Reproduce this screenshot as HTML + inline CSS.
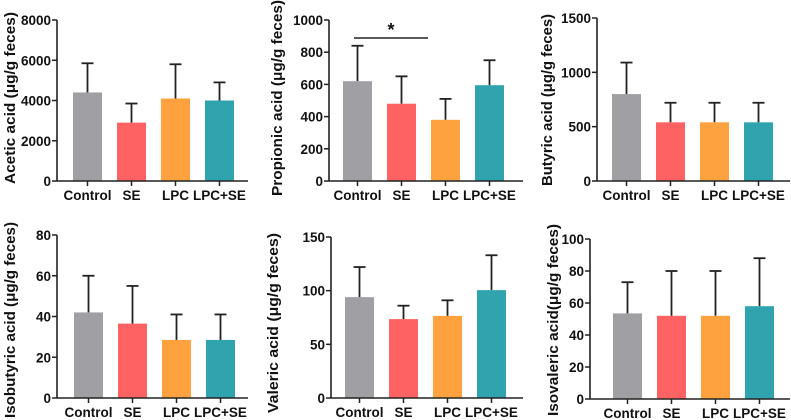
<!DOCTYPE html>
<html><head><meta charset="utf-8"><style>
html,body{margin:0;padding:0;background:#fff;width:791px;height:420px;overflow:hidden}
svg{display:block}
text{font-family:"Liberation Sans",Arial,sans-serif;font-weight:700;fill:#111}
</style></head><body>
<svg id="c" width="791" height="420" viewBox="0 0 791 420" xmlns="http://www.w3.org/2000/svg"></svg>
<script>
const categories = ["Control","SE","LPC","LPC+SE"];
const colors = ["#A09FA4","#FE6263","#FDA23F","#2FA3AE"];
const aceticMean = [4400,2900,4100,4000];
const aceticErr = [5850,3850,5800,4900];
const propionicMean = [620,480,380,595];
const propionicErr = [840,650,510,750];
const butyricMean = [800,540,540,540];
const butyricErr = [1090,720,720,720];
const isobutyricMean = [42,36.5,28.5,28.5];
const isobutyricErr = [60,55,41,41];
const valericMean = [94,73.5,76.5,100.5];
const valericErr = [122,86,91,133];
const isovalericMean = [53.5,52,52,58];
const isovalericErr = [73,80,80,88];
const aceticTicks = [0,2000,4000,6000,8000];
const propionicTicks = [0,200,400,600,800,1000];
const butyricTicks = [0,500,1000,1500];
const isobutyricTicks = [0,20,40,60,80];
const valericTicks = [0,50,100,150];
const isovalericTicks = [0,20,40,60,80,100];

const panels = [
 {name:"acetic",title:"Acetic acid (μg/g feces)",mean:aceticMean,err:aceticErr,ticks:aceticTicks,ax:57,top:20,zero:181,b0:73,end:248,tx:10,ty:98,tl:172},
 {name:"propionic",title:"Propionic acid (μg/g feces)",mean:propionicMean,err:propionicErr,ticks:propionicTicks,ax:329,top:20,zero:181,b0:343,end:523,tx:277,ty:98,tl:196,sig:true},
 {name:"butyric",title:"Butyric acid (μg/g feces)",mean:butyricMean,err:butyricErr,ticks:butyricTicks,ax:597,top:18,zero:181,b0:612,end:790,tx:547,ty:100,tl:172},
 {name:"isobutyric",title:"Isobutyric acid (μg/g feces)",mean:isobutyricMean,err:isobutyricErr,ticks:isobutyricTicks,ax:57,top:235,zero:398,b0:74,end:248,tx:10,ty:320,tl:196},
 {name:"valeric",title:"Valeric acid (μg/g feces)",mean:valericMean,err:valericErr,ticks:valericTicks,ax:331,top:237,zero:398,b0:345,end:523,tx:273,ty:323,tl:180},
 {name:"isovaleric",title:"Isovaleric acid(μg/g feces)",mean:isovalericMean,err:isovalericErr,ticks:isovalericTicks,ax:590,top:239,zero:399,b0:613,end:790,tx:553,ty:320,tl:192}
];
const NS="http://www.w3.org/2000/svg";
const svg=document.getElementById('c');
function mk(tag,attrs,parent){const e=document.createElementNS(NS,tag);for(const k in attrs)e.setAttribute(k,attrs[k]);(parent||svg).appendChild(e);return e;}
panels.forEach(p=>{
  const g=mk('g',{});
  
  
  const max=p.ticks[p.ticks.length-1];
  const y=v=>p.zero-(v/max)*(p.zero-p.top);
  const step=44, bw=29;
  const xc=i=>p.b0+i*step+bw/2;
  categories.forEach((c,i)=>{
    const eb=mk('line',{x1:xc(i),x2:xc(i),y1:y(p.mean[i]),y2:y(p.err[i]),stroke:'#222','stroke-width':1.8},g);
    
    
    const cap=mk('line',{x1:xc(i)-6,x2:xc(i)+6,y1:y(p.err[i]),y2:y(p.err[i]),stroke:'#222','stroke-width':1.8},g);
    
    
    const r=mk('rect',{x:p.b0+i*step,y:y(p.mean[i]),width:bw,height:p.zero-y(p.mean[i]),fill:colors[i]},g);
    
    
    mk('line',{x1:xc(i),x2:xc(i),y1:p.zero,y2:p.zero+5,stroke:'#222','stroke-width':1.5},g);
    const t=mk('text',{x:xc(i),y:p.zero+19,'text-anchor':'middle','font-size':13.5,'font-weight':'bold'},g);
    t.textContent=c;
    
    
  });
  mk('line',{x1:p.ax,x2:p.ax,y1:p.top,y2:p.zero,stroke:'#222','stroke-width':1.6},g);
  mk('line',{x1:p.ax,x2:p.end,y1:p.zero,y2:p.zero,stroke:'#222','stroke-width':1.6},g);
  p.ticks.forEach(tv=>{
    mk('line',{x1:p.ax-5,x2:p.ax,y1:y(tv),y2:y(tv),stroke:'#222','stroke-width':1.5},g);
    const t=mk('text',{x:p.ax-6,y:y(tv)+5,'text-anchor':'end','font-size':13.5,'font-weight':'bold'},g);
    t.textContent=tv;
    
    
  });
  const tt=mk('text',{x:0,y:0,'text-anchor':'middle','font-size':15,'font-weight':'bold',textLength:p.tl,lengthAdjust:'spacingAndGlyphs',transform:`translate(${p.tx+5},${p.ty}) rotate(-90)`},g);
  tt.textContent=p.title;
  
  
  if(p.sig){
    const sl=mk('line',{x1:354,x2:428,y1:38,y2:38,stroke:'#222','stroke-width':1.6},g);
    
    
    const st=mk('text',{x:391,y:36,'text-anchor':'middle','font-size':18,'font-weight':'bold'},g);
    st.textContent='*';
    
    
  }
});
</script>
</body></html>
